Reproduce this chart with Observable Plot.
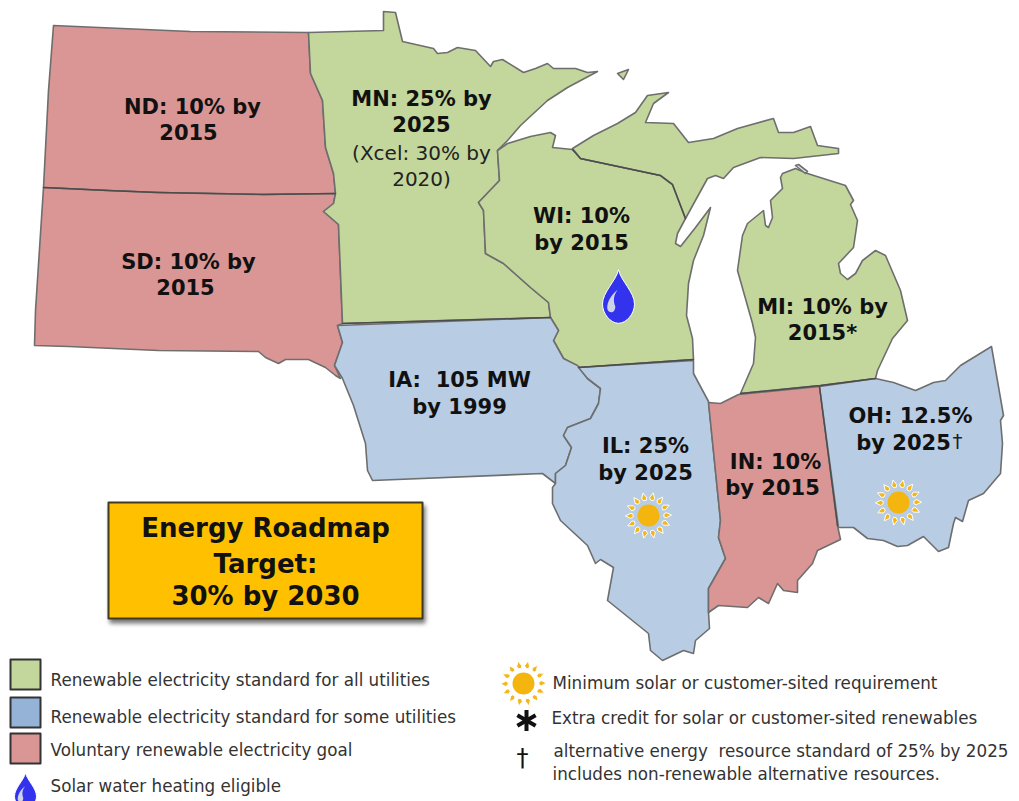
<!DOCTYPE html>
<html>
<head>
<meta charset="utf-8">
<style>html,body{margin:0;padding:0;background:#fff}svg{display:block}</style>
<script src="https://cdn.jsdelivr.net/npm/d3@7"></script>
<script src="https://cdn.jsdelivr.net/npm/@observablehq/plot@0.6"></script>
</head>
<body>
<div id="chart"></div>
<script>
// Outlines, in map units
const northDakota = [[53,25],[190,31],[308,32],[310,73],[322,100],[325,147],[333,173],[335,193],[263,194],[157,192],[107,190],[43,187],[48,90]];
const southDakota = [[43,187],[107,190],[157,192],[263,194],[335,193],[333,203],[323,211],[338,224],[342,323],[337,325],[342,342],[334,365],[340,378],[335,375],[325,367],[308,359],[285,359],[278,363],[265,357],[258,351],[158,350],[68,346],[34,345],[35,310]];
const minnesota = [[308,32],[383,30],[383,11],[395,12],[402,41],[433,48],[437,53],[447,52],[457,47],[475,50],[490,66],[493,61],[502,59],[523,72],[535,68],[547,63],[553,68],[575,68],[587,72],[597,71],[567,87],[547,100],[520,125],[507,140],[497,150],[499,180],[478,202],[483,210],[485,253],[503,263],[530,287],[548,302],[550,317],[342,323],[338,224],[323,211],[333,203],[335,193],[333,173],[325,147],[322,100],[310,73]];
const isleRoyale = [[617,73],[628,69],[623,79]];
const mackinacIsland = [[795,165],[798,164],[807,171],[805,173]];
const wisconsin = [[507,143],[530,136],[550,132],[555,135],[552,147],[572,149],[580,158],[660,175],[672,184],[685,218],[677,233],[675,243],[680,246],[695,227],[710,207],[703,235],[693,260],[688,283],[686,315],[692,338],[693,359],[578,367],[563,358],[553,340],[558,330],[550,317],[548,302],[530,287],[503,263],[485,253],[483,210],[478,202],[499,180],[497,150]];
const upperMichigan = [[572,148],[593,135],[617,123],[635,112],[647,95],[668,92],[653,103],[645,122],[673,123],[688,142],[713,138],[737,128],[773,118],[778,132],[793,132],[810,126],[817,145],[838,148],[838,153],[793,158],[760,157],[733,167],[723,178],[715,175],[707,178],[685,218],[672,184],[660,175],[580,158]];
const lowerMichigan = [[782,173],[795,168],[807,173],[845,185],[853,200],[850,204],[857,220],[853,247],[838,263],[840,273],[847,279],[855,273],[862,260],[875,250],[885,255],[900,290],[907,320],[892,338],[877,370],[875,378],[820,385],[740,393],[753,363],[755,337],[752,323],[737,270],[742,235],[747,223],[763,210],[765,225],[768,227],[772,217],[770,200],[782,188],[780,177]];
const iowa = [[337,325],[550,317],[558,330],[553,340],[563,358],[577,365],[587,378],[600,388],[598,403],[590,418],[567,427],[563,435],[571,447],[565,465],[555,473],[555,483],[542,473],[372,480],[367,470],[365,443],[353,405],[342,378],[334,365],[342,342]];
const illinois = [[578,367],[693,360],[693,373],[708,401],[720,520],[718,537],[725,558],[708,588],[708,612],[709,628],[695,640],[693,653],[683,650],[662,660],[650,650],[648,633],[607,600],[613,567],[600,559],[595,563],[587,545],[560,520],[552,503],[552,487],[555,483],[555,473],[565,465],[571,447],[563,435],[567,427],[590,418],[598,403],[600,388],[587,378]];
const indiana = [[708,402],[720,403],[738,394],[819,386],[837,525],[840,539],[817,550],[812,563],[797,580],[797,592],[783,590],[777,583],[768,603],[758,597],[747,607],[718,605],[708,612],[708,588],[725,558],[718,537],[720,520]];
const ohio = [[819,386],[875,378],[893,382],[915,390],[933,382],[945,380],[960,365],[991,346],[1003,415],[1000,420],[1002,443],[1000,473],[983,493],[968,500],[962,521],[955,517],[953,523],[948,547],[938,551],[923,536],[907,545],[897,546],[883,540],[867,538],[853,527],[838,527]];
const targetBox = [[108,502],[422,502],[422,618],[108,618]];
const swatchGreen = [[10,659],[40,659],[40,689],[10,689]];
const swatchBlue = [[10,697],[40,697],[40,727],[10,727]];
const swatchRed = [[10,733],[40,733],[40,763],[10,763]];
const darkBorders = [
  [[43,187],[107,190],[157,192],[263,194],[335,193]],
  [[572,149],[580,158],[660,175],[672,184],[685,218]],
  [[819,386],[837,525]],
  [[342,323],[550,317]],
  [[578,367],[693,359]],
  [[740,393],[820,385],[875,378]]
];

const green = "#c3d69b", blue = "#b8cce4", red = "#d99694";
const regions = [
  {ring: northDakota, fill: red}, {ring: southDakota, fill: red},
  {ring: minnesota, fill: green}, {ring: isleRoyale, fill: green},
  {ring: wisconsin, fill: green}, {ring: upperMichigan, fill: green}, {ring: lowerMichigan, fill: green},
  {ring: iowa, fill: blue}, {ring: illinois, fill: blue}, {ring: indiana, fill: red}, {ring: ohio, fill: blue},
  {ring: mackinacIsland, fill: "#e8ecf2"}
];
const boldLabels = [
  ["ND: 10% by",192,107],["2015",188,133],["SD: 10% by",188,262],["2015",185,288],
  ["MN: 25% by",421,99],["2025",421,125],["WI: 10%",581,216],["by 2015",581,243],
  ["MI: 10% by",822,307],["2015*",822,333],["IA:  105 MW",459,380],["by 1999",459,407],
  ["IL: 25%",645,446],["by 2025",645,473],["IN: 10%",775,462],["by 2015",772,488],
  ["OH: 12.5%",910,416],["by 2025",903,443]
];
const plainLabels = [["(Xcel: 30% by",421,153],["2020)",421,179],["†",957,441]];
const targetLines = [["Energy Roadmap",265,528],["Target:",265,564],["30% by 2030",265,596]];
const legendLines = [
  ["Renewable electricity standard for all utilities",50,680],
  ["Renewable electricity standard for some utilities",50,717],
  ["Voluntary renewable electricity goal",50,750],
  ["Solar water heating eligible",50,786],
  ["Minimum solar or customer-sited requirement",552,683],
  ["Extra credit for solar or customer-sited renewables",551,718],
  ["alternative energy  resource standard of 25% by 2025",553,751],
  ["includes non-renewable alternative resources.",552,774]
];
const daggerMark = [["†",522,758]];
const asteriskMark = [[526,720]];
const drops = [[618,298,16],[25,792,11]];
const suns = [[648,515,11],[898,502,11],[523,683,11]];

const unit = s => Math.sqrt(s / Math.PI);
const drop = {draw(c, s) {
  const r = unit(s);
  c.moveTo(0, -1.8*r);
  c.bezierCurveTo(0.15*r, -1.1*r, 1*r, -0.4*r, 1*r, 0.35*r);
  c.bezierCurveTo(1*r, 0.95*r, 0.5*r, 1.55*r, 0, 1.55*r);
  c.bezierCurveTo(-0.5*r, 1.55*r, -1*r, 0.95*r, -1*r, 0.35*r);
  c.bezierCurveTo(-1*r, -0.4*r, -0.15*r, -1.1*r, 0, -1.8*r);
  c.closePath();
}};
const dropGlint = {draw(c, s) {
  const r = unit(s);
  c.moveTo(-0.05*r, -0.55*r);
  c.bezierCurveTo(-0.4*r, -0.3*r, -0.75*r, 0.2*r, -0.7*r, 0.65*r);
  c.bezierCurveTo(-0.6*r, 0.95*r, -0.2*r, 0.95*r, -0.2*r, 0.5*r);
  c.bezierCurveTo(-0.35*r, 0.1*r, -0.3*r, -0.2*r, -0.05*r, -0.55*r);
  c.closePath();
}};
const sunRays = {draw(c, s) {
  const r = unit(s);
  const rays = 14;
  for (let i = 0; i < rays; ++i) {
    const a = i * 2 * Math.PI / rays, cs = Math.cos(a), sn = Math.sin(a);
    const p = (u, v) => [cs*u*r - sn*v*r, sn*u*r + cs*v*r];
    c.moveTo(...p(1.4, -0.12));
    c.lineTo(...p(1.62, -0.27));
    c.lineTo(...p(2.1, -0.03));
    c.lineTo(...p(1.62, 0.2));
    c.lineTo(...p(1.4, 0.12));
    c.closePath();
  }
}};

const poly = ring => ({type: "Polygon", coordinates: [[...ring, ring[0]]]});
const line = path => ({type: "LineString", coordinates: path});
const fontFamily = "'DejaVu Sans',sans-serif";
const txt = (data, o) => Plot.text(data, {text: d => d[0], x: d => d[1], y: d => d[2], fontFamily, lineAnchor: "middle", ...o});

const chart = Plot.plot({
  width: 1019, height: 801, margin: 0, projection: "identity",
  style: {background: "#fff", fontFamily},
  marks: [
    Plot.geo(regions, {geometry: d => poly(d.ring), fill: d => d.fill, stroke: "#6e6e6e", strokeWidth: 1.6, strokeLinejoin: "round"}),
    Plot.geo(darkBorders.map(line), {stroke: "#4c4c4c", strokeWidth: 1.3, fill: "none"}),
    Plot.geo([poly(targetBox)], {fill: "#ffc000", stroke: "#403a20", strokeWidth: 2, imageFilter: "drop-shadow(2px 4px 2px #777)"}),
    Plot.geo([poly(swatchGreen)], {fill: "#c3d69b", stroke: "#333", strokeWidth: 2}),
    Plot.geo([poly(swatchBlue)], {fill: "#95b3d7", stroke: "#333", strokeWidth: 2}),
    Plot.geo([poly(swatchRed)], {fill: "#d99694", stroke: "#333", strokeWidth: 2}),
    txt(boldLabels, {fontSize: 21, fontWeight: 700, fill: "#111"}),
    txt(plainLabels, {fontSize: 20, fill: "#222"}),
    txt(targetLines, {fontSize: 26, fontWeight: 700, fill: "#111"}),
    txt(legendLines, {fontSize: 16.75, fill: "#333", textAnchor: "start"}),
    txt(daggerMark, {fontSize: 24, fill: "#111"}),
    Plot.dot(asteriskMark, {x: d => d[0], y: d => d[1], r: 10, symbol: "asterisk", stroke: "#111", strokeWidth: 4}),
    Plot.dot(drops, {x: d => d[0], y: d => d[1], r: d => d[2], symbol: drop, fill: "#3333ee", stroke: "#fff", strokeWidth: 1}),
    Plot.dot(drops, {x: d => d[0], y: d => d[1], r: d => d[2], symbol: dropGlint, fill: "#cfd3e8"}),
    Plot.dot(suns, {x: d => d[0], y: d => d[1], r: d => d[2], symbol: sunRays, fill: "#f2b71a", stroke: "#fff", strokeWidth: 1}),
    Plot.dot(suns, {x: d => d[0], y: d => d[1], r: d => d[2], fill: "#f5b50f"})
  ],
  r: {type: "identity"}
});
document.getElementById("chart").append(chart);
</script>
</body>
</html>
